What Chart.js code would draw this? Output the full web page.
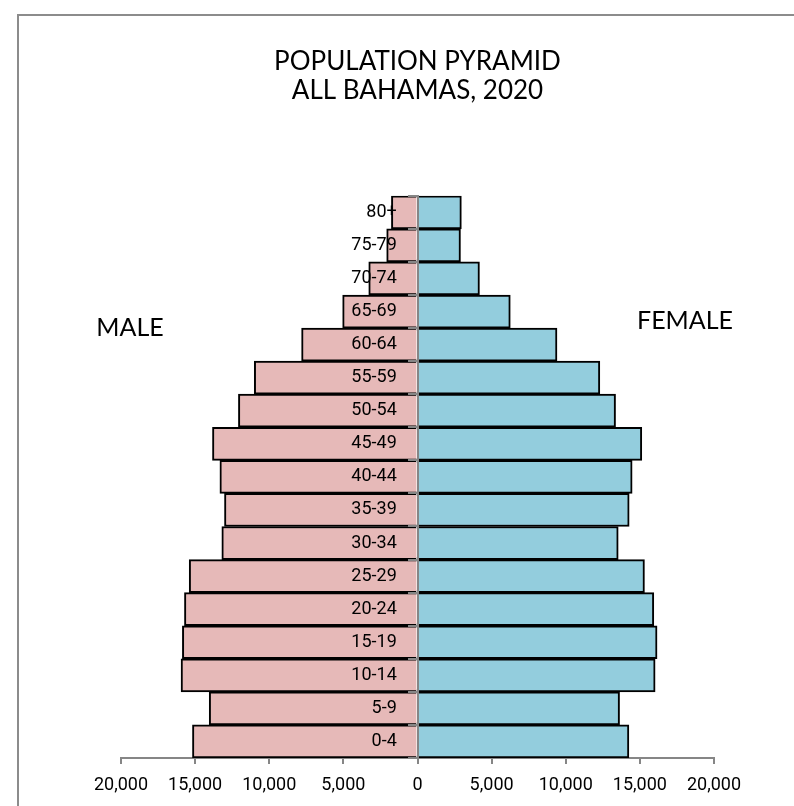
<!DOCTYPE html>
<html>
<head>
<meta charset="utf-8">
<style>
  html, body { margin: 0; padding: 0; background: #fff; }
  #wrap { width: 794px; height: 806px; position: relative; }
</style>
<script src="https://cdn.jsdelivr.net/npm/chart.js@4.4.1/dist/chart.umd.min.js"></script>
</head>
<body>
<div id="wrap"><canvas id="myChart"></canvas></div>
<script>
const ageGroups = ['80+', '75-79', '70-74', '65-69', '60-64', '55-59', '50-54', '45-49',
    '40-44', '35-39', '30-34', '25-29', '20-24', '15-19', '10-14', '5-9', '0-4'];
const maleValues = [1760, 2080, 3290, 5050, 7820, 11010, 12080, 13830,
    13330, 13020, 13200, 15400, 15720, 15860, 15950, 14050, 15180];
const femaleValues = [2960, 2900, 4180, 6260, 9410, 12300, 13360, 15130,
    14480, 14280, 13540, 15310, 15940, 16160, 16030, 13630, 14260];
const titleLines = ['POPULATION PYRAMID', 'ALL BAHAMAS, 2020'];

const axisGray = '#868686';

// MALE / FEMALE side captions and the frame around the chart
const sideText = {
    id: 'sideText',
    afterDraw(chart) {
        const c = chart.ctx;
        c.save();
        c.strokeStyle = '#8c8c8c';
        c.lineWidth = 2;
        c.beginPath();
        c.moveTo(18, 806);
        c.lineTo(18, 15);
        c.lineTo(794, 15);
        c.stroke();
        c.fillStyle = '#000';
        c.font = '25px Lato';
        c.textAlign = 'center';
        c.textBaseline = 'middle';
        c.fillText('MALE', 130, 328);
        c.fillText('FEMALE', 685, 321);
        c.restore();
    }
};

new Chart(document.getElementById('myChart'), {
    type: 'bar',
    data: {
        labels: ageGroups,
        datasets: [
            {
                label: 'Male',
                data: maleValues.map(v => -v),
                backgroundColor: '#E6B9B8',
                borderColor: '#000',
                borderWidth: 2
            },
            {
                label: 'Female',
                data: femaleValues,
                backgroundColor: '#93CDDD',
                borderColor: '#000',
                borderWidth: 2
            }
        ]
    },
    options: {
        indexAxis: 'y',
        responsive: true,
        maintainAspectRatio: false,
        animation: false,
        barPercentage: 1,
        categoryPercentage: 1,
        layout: { padding: { left: 121, right: 80, top: 0, bottom: 0 } },
        plugins: {
            legend: { display: false },
            tooltip: { enabled: false },
            title: {
                display: true,
                text: titleLines,
                color: '#000',
                font: { family: 'Lato', size: 26, weight: 'normal', lineHeight: 1.13 },
                padding: { top: 47, bottom: 90 }
            }
        },
        scales: {
            x: {
                stacked: true,
                min: -20000,
                max: 20000,
                grid: { drawOnChartArea: false, color: axisGray, lineWidth: 2, tickLength: 6 },
                border: { color: axisGray, width: 2 },
                ticks: {
                    stepSize: 5000,
                    color: '#000',
                    padding: 12,
                    maxRotation: 0,
                    font: { family: 'Roboto', size: 18, lineHeight: 1 },
                    callback: function(value) {
                        return Math.abs(value).toLocaleString('en-US');
                    }
                }
            },
            // centre axis line with tick marks between the age groups
            y: {
                stacked: true,
                position: { x: 0 },
                grid: { drawOnChartArea: false, color: axisGray, lineWidth: 2, tickLength: 9, offset: true, z: 1 },
                border: { color: axisGray, width: 2, z: 1 },
                ticks: { display: false }
            },
            // age group labels, sitting just left of the centre line
            yLabels: {
                type: 'category',
                axis: 'y',
                position: { x: -1400 },
                offset: true,
                grid: { display: false },
                border: { display: false },
                ticks: {
                    color: '#000',
                    z: 1,
                    font: { family: 'Roboto', size: 18 }
                }
            }
        }
    },
    plugins: [sideText]
});
</script>
</body>
</html>
